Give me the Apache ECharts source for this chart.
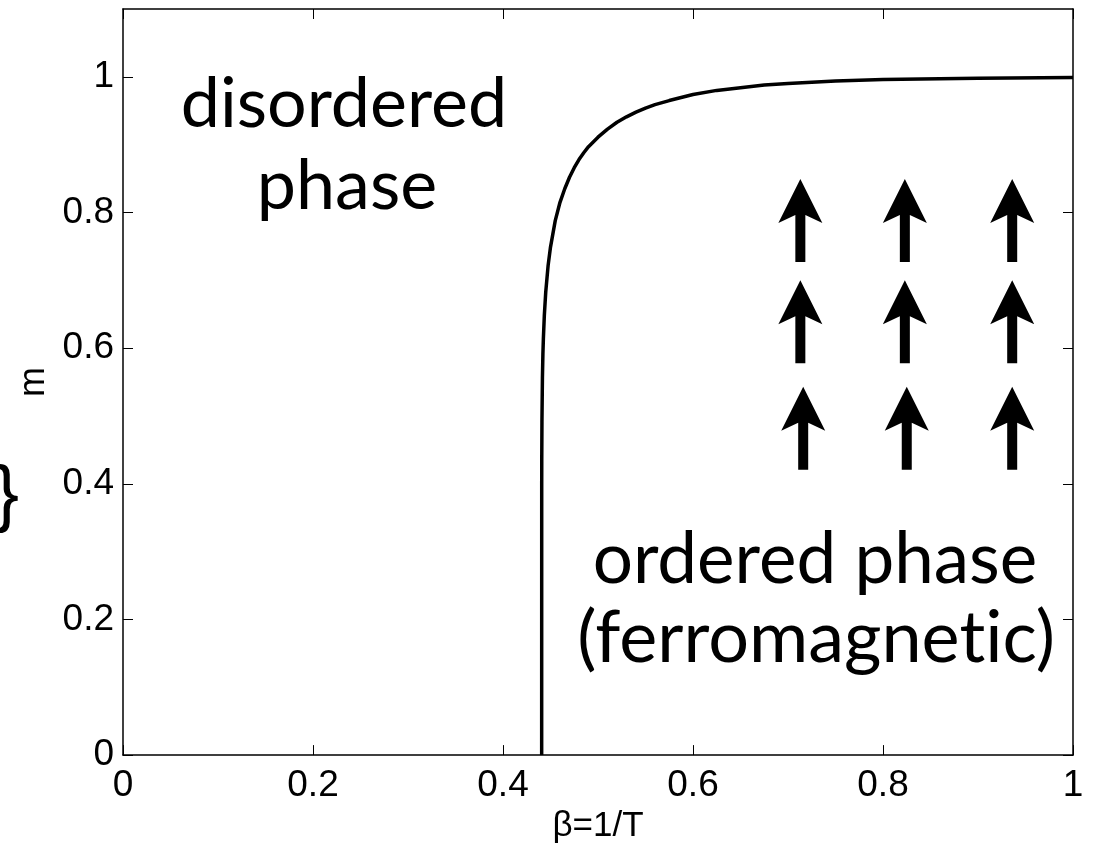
<!DOCTYPE html>
<html>
<head>
<meta charset="utf-8">
<script src="https://cdn.jsdelivr.net/npm/echarts@6/dist/echarts.min.js"></script>
<style>
html,body{margin:0;padding:0;background:#fff;}
#chart{width:1093px;height:849px;}
</style>
</head>
<body>
<div id="chart"></div>
<script>
// Magnetization curve
const betaValues = [0.4407, 0.44075, 0.4408, 0.441, 0.4415, 0.442, 0.4425, 0.4435, 0.445, 0.4475, 0.45, 0.455, 0.46, 0.465, 0.47, 0.475, 0.48, 0.485, 0.49, 0.495, 0.50, 0.51, 0.52, 0.53, 0.54, 0.55, 0.56, 0.575, 0.60, 0.625, 0.65, 0.675, 0.70, 0.75, 0.80, 0.90, 1.00];
const mValues    = [0.0,    0.402,   0.433,  0.491, 0.556,  0.591, 0.614,  0.648,  0.683, 0.722,  0.749, 0.788, 0.815, 0.835, 0.852, 0.866, 0.878, 0.888, 0.897, 0.904, 0.911, 0.923, 0.933, 0.941, 0.948, 0.954, 0.959, 0.965, 0.974, 0.980, 0.984, 0.988, 0.990, 0.994, 0.996, 0.998, 0.999];

// Spin arrows (centres, in data units)
const arrowX = [0.713, 0.823, 0.936, 0.713, 0.823, 0.936, 0.716, 0.825, 0.936];
const arrowY = [0.788, 0.788, 0.788, 0.639, 0.639, 0.639, 0.482, 0.482, 0.482];

// Axis ticks
const xTicks = [0, 0.2, 0.4, 0.6, 0.8, 1];
const yTicks = [0, 0.2, 0.4, 0.6, 0.8, 1];

const xName = 'β=1/T';
const yName = 'm';
const labelTop = 'disordered';
const labelTop2 = 'phase';
const labelBottom = 'ordered phase';
const labelBottom2 = '(ferromagnet\u200Cic)';

const chart = echarts.init(document.getElementById('chart'));
const tickFont = 'Liberation Sans';
const arrowPath = 'path://M22 0L44 44L27 36L27 83L17 83L17 36L0 44Z';

const shadow = {shadowColor: 'rgba(0,0,0,0.45)', shadowBlur: 4, shadowOffsetX: 4, shadowOffsetY: 4};
function bigText(txt, x, y, size) {
  return {
    type: 'text', x: x, y: y, z: 100,
    style: Object.assign({text: txt, fill: '#000', font: size + 'px Lato', align: 'center', verticalAlign: 'middle'}, shadow)
  };
}

const tickStyle = {show: true, inside: true, length: 10, lineStyle: {color: '#000', width: 1}};
const axisCommon = {
  type: 'value',
  axisLine: {show: true, onZero: false, lineStyle: {color: '#000', width: 1.5}},
  splitLine: {show: false}
};

chart.setOption({
  animation: false,
  backgroundColor: '#fff',
  grid: {left: 123, right: 20, top: 9, bottom: 92},
  xAxis: [
    Object.assign({}, axisCommon, {
      min: 0, max: 1, interval: 0.2, position: 'bottom',
      axisTick: Object.assign({customValues: xTicks}, tickStyle),
      axisLabel: {show: true, customValues: xTicks, margin: 12, color: '#000', fontFamily: tickFont, fontSize: 37, formatter: v => String(v)},
      name: xName, nameLocation: 'middle', nameGap: 50,
      nameTextStyle: {color: '#000', fontFamily: tickFont, fontSize: 35}
    }),
    Object.assign({}, axisCommon, {
      min: 0, max: 1, interval: 0.2, position: 'top',
      axisTick: Object.assign({customValues: xTicks}, tickStyle),
      axisLabel: {show: false}
    })
  ],
  yAxis: [
    Object.assign({}, axisCommon, {
      min: 0, max: 1.1, interval: 0.2, position: 'left',
      axisTick: Object.assign({customValues: yTicks}, tickStyle),
      axisLabel: {show: true, customValues: yTicks, margin: 9, color: '#000', fontFamily: tickFont, fontSize: 37, formatter: v => String(v)},
      name: yName, nameLocation: 'middle', nameGap: 70,
      nameTextStyle: {color: '#000', fontFamily: tickFont, fontSize: 36}
    }),
    Object.assign({}, axisCommon, {
      min: 0, max: 1.1, interval: 0.2, position: 'right',
      axisTick: Object.assign({customValues: yTicks}, tickStyle),
      axisLabel: {show: false}
    })
  ],
  series: [
    {
      type: 'line',
      data: betaValues.map((b, i) => [b, mValues[i]]),
      showSymbol: false,
      smooth: false,
      lineStyle: {color: '#000', width: 3.5, join: 'round', cap: 'butt'},
      z: 5
    },
    {
      type: 'scatter',
      data: arrowX.map((x, i) => [x, arrowY[i]]),
      symbol: arrowPath,
      symbolSize: [44, 83],
      itemStyle: {color: '#000', opacity: 1},
      z: 6
    }
  ],
  graphic: [
    bigText(labelTop, 344, 104, 70),
    bigText(labelTop2, 347, 186, 70),
    bigText(labelBottom, 815, 560, 71),
    bigText(labelBottom2, 816, 639, 72),
    {
      type: 'text', x: 19, y: 497, z: 100,
      style: {text: '}', fill: '#000', font: '75px "Liberation Sans"', align: 'right', verticalAlign: 'middle'}
    }
  ]
});
</script>
</body>
</html>
